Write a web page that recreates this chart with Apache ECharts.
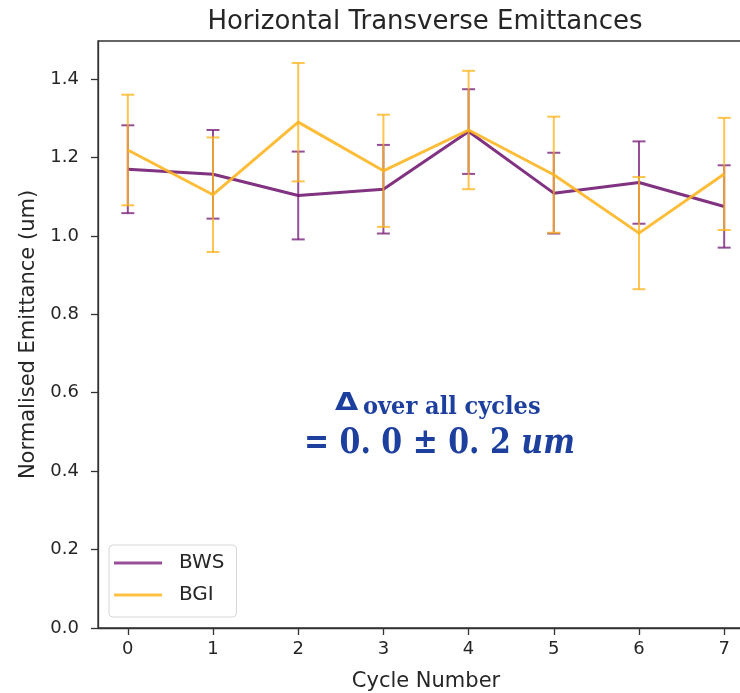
<!DOCTYPE html>
<html>
<head>
<meta charset="utf-8">
<script src="https://cdn.jsdelivr.net/npm/echarts@6/dist/echarts.min.js"></script>
<style>
  html, body { margin: 0; padding: 0; background: #fff; }
  #chart { width: 740px; height: 693px; }
</style>
</head>
<body>
<div id="chart"></div>
<script>
// Cycle numbers and measured emittances (um) with their uncertainties
const cycles = [0, 1, 2, 3, 4, 5, 6, 7];
const bwsValues = [1.170, 1.157, 1.103, 1.119, 1.266, 1.109, 1.136, 1.075];
const bwsErrors = [0.112, 0.113, 0.112, 0.113, 0.108, 0.103, 0.105, 0.105];
const bgiValues = [1.219, 1.105, 1.290, 1.166, 1.270, 1.156, 1.007, 1.158];
const bgiErrors = [0.141, 0.146, 0.151, 0.143, 0.151, 0.148, 0.143, 0.143];
const yTicks = [0, 0.2, 0.4, 0.6, 0.8, 1.0, 1.2, 1.4];

const purpleLine = 'rgba(112, 22, 112, 0.88)';
const purpleBar = 'rgba(120, 30, 120, 0.78)';
const yellowLine = 'rgba(253, 180, 30, 0.88)';
const yellowBar = 'rgba(253, 180, 30, 0.78)';
const textColor = '#262626';
const noteColor = '#1d3f9e';
const sans = 'DejaVu Sans';

function pointsOf(values) {
  return cycles.map((c, i) => [c, values[i]]);
}
function barsOf(values, errors) {
  return cycles.map((c, i) => [c, values[i] - errors[i], values[i] + errors[i]]);
}

// Vertical error bar with caps, placed through the axis scales
function errorBarRenderer(color) {
  return function (params, api) {
    const x = api.value(0);
    const lo = api.coord([x, api.value(1)]);
    const hi = api.coord([x, api.value(2)]);
    const cap = 6.5;
    const style = { stroke: color, lineWidth: 2, fill: null };
    return {
      type: 'group',
      children: [
        { type: 'line', shape: { x1: lo[0], y1: lo[1], x2: hi[0], y2: hi[1] }, style },
        { type: 'line', shape: { x1: hi[0] - cap, y1: hi[1], x2: hi[0] + cap, y2: hi[1] }, style },
        { type: 'line', shape: { x1: lo[0] - cap, y1: lo[1], x2: lo[0] + cap, y2: lo[1] }, style }
      ]
    };
  };
}

const chart = echarts.init(document.getElementById('chart'), null, { renderer: 'canvas' });

chart.setOption({
  animation: false,
  backgroundColor: '#ffffff',
  title: {
    text: 'Horizontal Transverse Emittances',
    left: 420, top: 4, textAlign: 'center',
    textStyle: { fontFamily: sans, fontSize: 26, fontWeight: 'normal', color: textColor }
  },
  grid: {
    left: 98, top: 41, width: 656, height: 587,
    outerBoundsMode: 'none',
    containLabel: false,
    show: true, borderColor: '#333', borderWidth: 1.3, backgroundColor: 'transparent'
  },
  legend: {
    orient: 'vertical',
    left: 109, top: 545,
    padding: [8, 12, 12, 5],
    itemGap: 12,
    itemWidth: 48, itemHeight: 3,
    icon: 'rect',
    backgroundColor: '#fff',
    borderColor: '#d6d6d6', borderWidth: 1, borderRadius: 4,
    textStyle: { fontFamily: sans, fontSize: 20, lineHeight: 20, color: textColor, padding: [0, 0, 0, 12] },
    data: [
      { name: 'BWS', itemStyle: { color: 'rgba(140, 60, 140, 0.9)' } },
      { name: 'BGI', itemStyle: { color: 'rgba(253, 190, 60, 0.95)' } }
    ]
  },
  xAxis: {
    type: 'value',
    min: -0.35, max: 7.35,
    name: 'Cycle Number',
    nameLocation: 'middle', nameGap: 43,
    nameTextStyle: { fontFamily: sans, fontSize: 21, color: textColor },
    axisLine: { show: true, onZero: false, lineStyle: { color: '#333', width: 1.3 } },
    axisTick: { show: true, length: 7, lineStyle: { color: '#333', width: 1.3 }, customValues: cycles },
    axisLabel: { fontFamily: sans, fontSize: 18, color: textColor, margin: 12, customValues: cycles },
    splitLine: { show: false }
  },
  yAxis: {
    type: 'value',
    min: 0, max: 1.497,
    name: 'Normalised Emittance (um)',
    nameLocation: 'middle', nameGap: 59,
    nameTextStyle: { fontFamily: sans, fontSize: 21, color: textColor },
    axisLine: { show: true, onZero: false, lineStyle: { color: '#333', width: 1.3 } },
    axisTick: { show: true, length: 7, lineStyle: { color: '#333', width: 1.3 }, customValues: yTicks },
    axisLabel: {
      fontFamily: sans, fontSize: 18, color: textColor, margin: 19,
      customValues: yTicks,
      formatter: v => v.toFixed(1)
    },
    splitLine: { show: false }
  },
  series: [
    {
      name: 'BWS', type: 'line', data: pointsOf(bwsValues),
      showSymbol: false, symbol: 'none', z: 3,
      lineStyle: { color: purpleLine, width: 3 },
      itemStyle: { color: purpleLine }
    },
    {
      name: 'BWS-err', type: 'custom', data: barsOf(bwsValues, bwsErrors),
      renderItem: errorBarRenderer(purpleBar), z: 2, silent: true
    },
    {
      name: 'BGI', type: 'line', data: pointsOf(bgiValues),
      showSymbol: false, symbol: 'none', z: 5,
      lineStyle: { color: yellowLine, width: 3 },
      itemStyle: { color: yellowLine }
    },
    {
      name: 'BGI-err', type: 'custom', data: barsOf(bgiValues, bgiErrors),
      renderItem: errorBarRenderer(yellowBar), z: 4, silent: true
    }
  ],
  graphic: [
    {
      type: 'text', x: 335, y: 403, z: 10, scaleX: 1.2,
      style: {
        text: 'Δ', fontFamily: 'DejaVu Sans', fontWeight: 'bold', fontSize: 25,
        fill: noteColor, verticalAlign: 'middle'
      }
    },
    {
      type: 'text', x: 363, y: 408, z: 10, scaleY: 1.1,
      style: {
        text: 'over all cycles', fontFamily: 'DejaVu Serif', fontWeight: 'bold', fontSize: 22.5,
        fill: noteColor, verticalAlign: 'middle'
      }
    },
    {
      type: 'text', x: 304, y: 444, z: 10, scaleY: 1.2,
      style: {
        text: '{n|= 0. 0 ± 0. 2 }{u|um}',
        verticalAlign: 'middle',
        rich: {
          n: { fontFamily: 'DejaVu Serif', fontWeight: 'bold', fontSize: 30, fill: noteColor },
          u: { fontFamily: 'DejaVu Serif', fontWeight: 'bold', fontStyle: 'italic', fontSize: 30, fill: noteColor }
        }
      }
    }
  ]
});
</script>
</body>
</html>
